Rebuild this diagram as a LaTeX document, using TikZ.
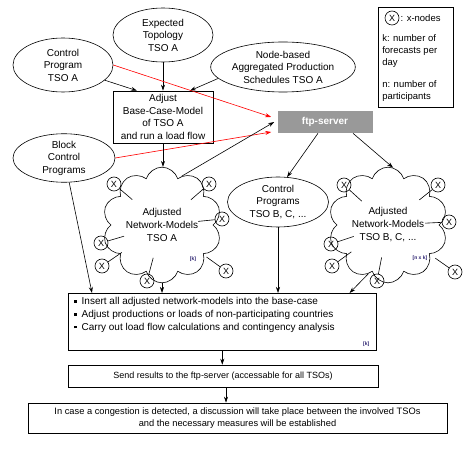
\documentclass[tikz,border=0pt]{standalone}
\usepackage{fontspec}
\setmainfont{Liberation Sans}
\usetikzlibrary{shapes.geometric,shapes.symbols,calc,arrows.meta}
\newcommand{\sqbul}{\raisebox{1.8pt}{\rule{2.4pt}{2.4pt}}\enspace}
\tikzset{
  oval/.style={draw,ellipse,align=center,inner sep=0pt,font=\fontsize{10}{12.5}\selectfont},
  box/.style={draw,rectangle,align=center,inner sep=0pt},
  netcloud/.style={draw,cloud,cloud puffs=10,cloud puff arc=145,aspect=1.05,minimum width=92pt,minimum height=86pt,inner sep=0pt,align=center,font=\fontsize{10}{13}\selectfont},
  xnode/.style={draw,circle,minimum size=14pt,inner sep=0pt,font=\fontsize{9}{9}\selectfont},
  mult/.style={inner sep=1pt,text={rgb,255:red,40;green,30;blue,110},font=\fontsize{5}{5}\selectfont\bfseries},
}
\begin{document}
\begin{tikzpicture}[x=1pt,y=-1pt,line width=0.6pt,>={Stealth[length=6pt,width=4pt]}]
\useasboundingbox (0,0) rectangle (471,454);
\node[oval,minimum width=100pt,minimum height=54pt] (et) at (163,35) {Expected\\Topology\\TSO A};
\node[oval,minimum width=100pt,minimum height=54pt] (cpa) at (63,65) {Control\\Program\\TSO A};
\node[oval,minimum width=138pt,minimum height=50pt] (nb) at (283,67) {Node-based\\Aggregated Production\\Schedules TSO A};
\node[box,minimum width=100pt,minimum height=52pt,font=\fontsize{10}{12.5}\selectfont] (adj) at (163,117) {Adjust\\Base-Case-Model\\of TSO A\\and run a load flow};
\node[oval,minimum width=102pt,minimum height=48pt] (bcp) at (64,158) {Block\\Control\\Programs};
\node[box,fill=gray!80,draw=none,minimum width=95pt,minimum height=22pt,text=white,font=\fontsize{10}{12}\selectfont\bfseries] (ftp) at (325,122) {ftp-server};
\node[oval,minimum width=101pt,minimum height=50pt] (cpb) at (278,202) {Control\\Programs\\TSO B, C, ...};
\node[netcloud] (ca) at (162,225) {Adjusted\\Network-Models\\TSO A};
\node[netcloud] (cb) at (388,225) {Adjusted\\Network-Models\\TSO B, C, ...};
\node[mult] at (193,259) {[k]};
\node[mult] at (420,258) {[n x k]};
% x-nodes round the network models
\foreach \n/\x/\y in {1/114/184,2/209/184,3/222/219,4/101/243,5/102/266,6/226/271,7/147/281}
  \node[xnode] (xa\n) at (\x,\y) {X};
\foreach \n/\x/\y in {1/344/185,2/438/185,3/449/222,4/331/244,5/332/266,6/455/272,7/377/281}
  \node[xnode] (xb\n) at (\x,\y) {X};
\foreach \n in {1,...,7}{
  \draw (xa\n) -- ($(xa\n)!24pt!(ca)$);
  \draw (xb\n) -- ($(xb\n)!24pt!(cb)$);
}
% legend
\node[draw,minimum width=75pt,minimum height=100pt,anchor=north west] (leg) at (378,7) {};
\node[xnode] (xl) at (392,18) {X};
\node[anchor=west,inner sep=1pt,font=\fontsize{9.5}{12}\selectfont] at (xl.east) {: x-nodes};
\node[anchor=north west,align=left,inner sep=0pt,font=\fontsize{9.5}{12}\selectfont] at (382,34) {k: number of\\forecasts per\\day};
\node[anchor=north west,align=left,inner sep=0pt,font=\fontsize{9.5}{12}\selectfont] at (382,80) {n: number of\\participants};
% calculation boxes
\node[box,minimum width=308pt,minimum height=57pt,anchor=north west] (big) at (68,293) {};
\node[anchor=north west,align=left,inner sep=0pt,font=\fontsize{10}{12.8}\selectfont] at (74,297) {\sqbul Insert all adjusted network-models into the base-case\\\sqbul Adjust productions or loads of non-participating countries\\\sqbul Carry out load flow calculations and contingency analysis};
\node[mult,anchor=south east] at ($(big.south east)+(-6,-3)$) {[k]};
\node[box,minimum width=310pt,minimum height=22pt,font=\fontsize{9}{11}\selectfont] (send) at (223,376) {Send results to the ftp-server (accessable for all TSOs)};
\node[box,minimum width=419pt,minimum height=30pt,font=\fontsize{9.3}{12.5}\selectfont] (fin) at (237.5,418) {In case a congestion is detected, a discussion will take place between the involved TSOs\\and the necessary measures will be established};
% connectors
\draw[->] (et) -- (adj);
\draw[->] (cpa.-20) -- ([xshift=-26pt]adj.north);
\draw[->] (nb.190) -- ([xshift=27pt]adj.north);
\draw[->,red] (cpa.east) -- ([xshift=-6pt,yshift=5pt]ftp.west);
\draw[->,red] (bcp.east) -- ([xshift=-6pt,yshift=-10pt]ftp.west);
\draw[->] (ca.68) -- ([xshift=-3pt]ftp.west);
\draw[->] (adj.south) -- (adj.south |- ca.north);
\draw[->] ([xshift=-7pt]ftp.south) -- (cpb.70);
\draw[->] ([xshift=28pt]ftp.south) -- (cb.85);
\draw[->] (bcp.-78) -- ([xshift=24pt]big.north west);
\draw[->] (ca.south) -- (ca.south |- big.north);
\draw[->] (cpb.south) -- (cpb.south |- big.north);
\draw[->] (cb.-112) -- ([xshift=-27pt]big.north east);
\draw[->] (big.south) -- (big.south |- send.north);
\draw[->] ([xshift=3pt]send.south) -- ([xshift=3pt]send.south |- fin.north);
\end{tikzpicture}
\end{document}
